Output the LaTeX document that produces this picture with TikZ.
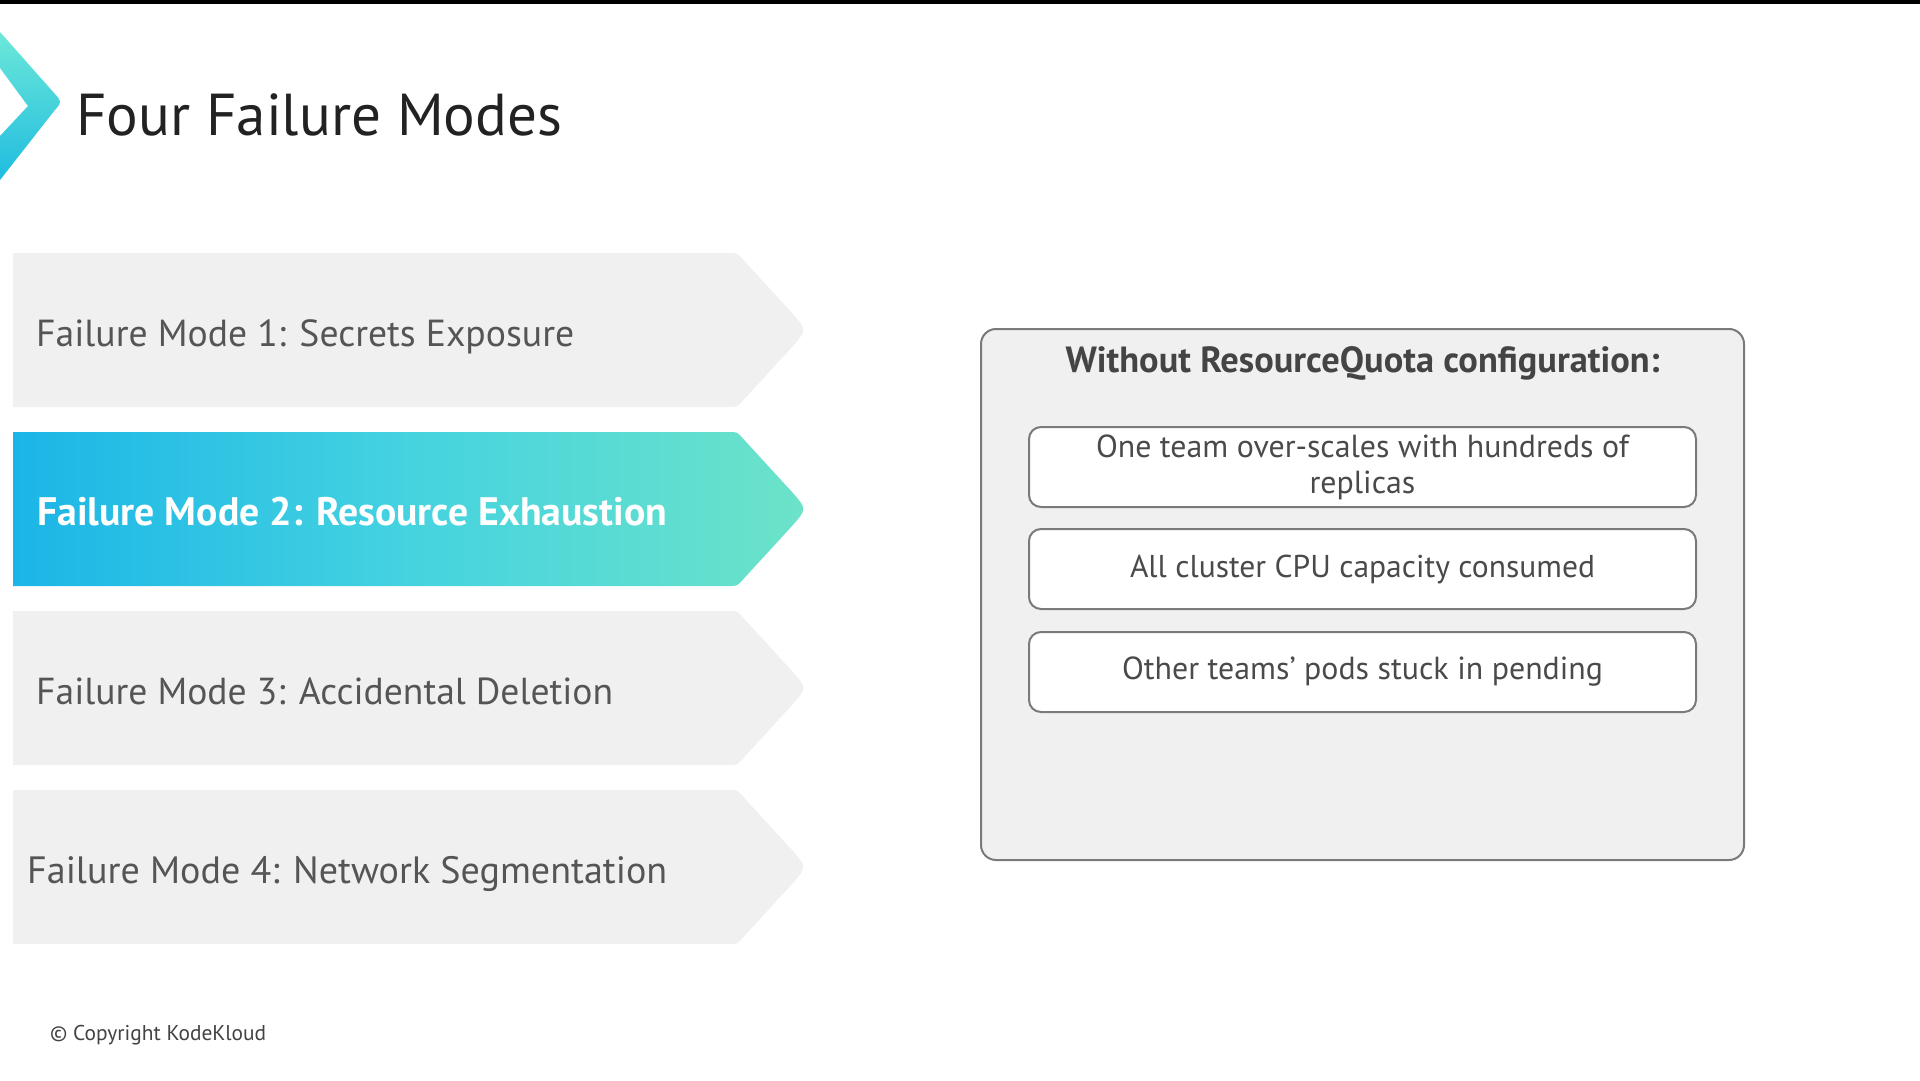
\documentclass[tikz,border=0pt]{standalone}
\usepackage{fontspec}
\setmainfont{PT Sans}
\definecolor{boxgray}{HTML}{F0F0F0}
\definecolor{panelgray}{HTML}{F0F0F0}
\definecolor{bordergray}{HTML}{7A7A7A}
\definecolor{modegray}{HTML}{555555}
\definecolor{titlecol}{HTML}{222222}
\definecolor{itemgray}{HTML}{4A4A4A}
\definecolor{headgray}{HTML}{444444}
\definecolor{gradA}{HTML}{1BB5E7}
\definecolor{gradB}{HTML}{45D3E0}
\definecolor{gradC}{HTML}{6CE3C8}
\definecolor{chevTop}{HTML}{6CE8D8}
\definecolor{chevBot}{HTML}{1FBCE0}
\newlength\fitlen
\newcommand\fitfont[2]{%
  \settowidth\fitlen{\fontsize{10bp}{12bp}\selectfont #2}%
  \pgfmathsetmacro\fitfs{10*#1*1.00375/\fitlen}%
  \fontsize{\fitfs bp}{\fitfs bp}\selectfont}
\newcommand\fittext[2]{\fitfont{#1}{#2}#2}
% arrow shaped band with top edge at y=#1
\newcommand\bandpath[1]{(13,#1) -- (729,#1) .. controls (737,#1) .. (742.4,{#1+5.9})
  -- (792,{#1+60}) .. controls (807,{#1+77}) .. (792,{#1+94})
  -- (742.4,{#1+148.1}) .. controls (737,{#1+154}) .. (729,{#1+154})
  -- (13,{#1+154}) -- cycle}
\begin{document}
\begin{tikzpicture}[x=1bp,y=-1bp,
  modetext/.style={anchor=base west, inner sep=0pt, text=modegray},
  itembox/.style={draw=bordergray, line width=2bp, fill=white, rounded corners=12bp,
    minimum width=667bp, minimum height=80bp, align=center, text=itemgray, inner sep=0pt}]
\useasboundingbox (0,0) rectangle (1920,1080);
\fill[white] (0,0) rectangle (1920,1080);
\fill[black] (0,0) rectangle (1920,4);
% logo chevron
\shade[top color=chevTop, bottom color=chevBot]
  (0,32) -- (54.6,93.6) .. controls (62,102) .. (54.6,110.4) -- (0,180)
  -- (0,136) -- (28,106) -- (0,68) -- cycle;
\node[anchor=base west, inner sep=0pt, text=titlecol] (title) at (76,135)
  {\fittext{486}{Four Failure Modes}};
% bands
\fill[boxgray] \bandpath{253};
\shade[left color=gradA, right color=gradC, middle color=gradB] \bandpath{432};
\fill[boxgray] \bandpath{611};
\fill[boxgray] \bandpath{790};
\node[modetext] (m1) at (36,346) {\fittext{538}{Failure Mode 1: Secrets Exposure}};
\node[modetext, text=white] (m2) at (37,525) {\bfseries\fittext{630}{Failure Mode 2: Resource Exhaustion}};
\node[modetext] (m3) at (36,704) {\fittext{577}{Failure Mode 3: Accidental Deletion}};
\node[modetext] (m4) at (27,883) {\fittext{640}{Failure Mode 4: Network Segmentation}};
% panel
\node[draw=bordergray, line width=2bp, fill=panelgray, rounded corners=15bp,
  minimum width=763bp, minimum height=531bp, inner sep=0pt] (panel) at (1362.5,594.5) {};
\node[anchor=base, inner sep=0pt, text=headgray] (head) at (1362.5,372)
  {\bfseries\fittext{594}{Without ResourceQuota configuration:}};
\node[itembox, font={\fitfont{533}{One team over-scales with hundreds of}\fontsize{\fitfs bp}{36bp}\selectfont}] (i1) at (1362.5,467)
  {One team over-scales with hundreds of\\replicas};
\node[itembox] (i2) at (1362.5,569) {\fittext{465}{All cluster CPU capacity consumed}};
\node[itembox] (i3) at (1362.5,672) {\fittext{481}{Other teams’ pods stuck in pending}};
\node[anchor=west, inner sep=0pt, text=titlecol!85] (copy) at (50,1035)
  {\fittext{216}{© Copyright KodeKloud}};
\end{tikzpicture}
\end{document}
